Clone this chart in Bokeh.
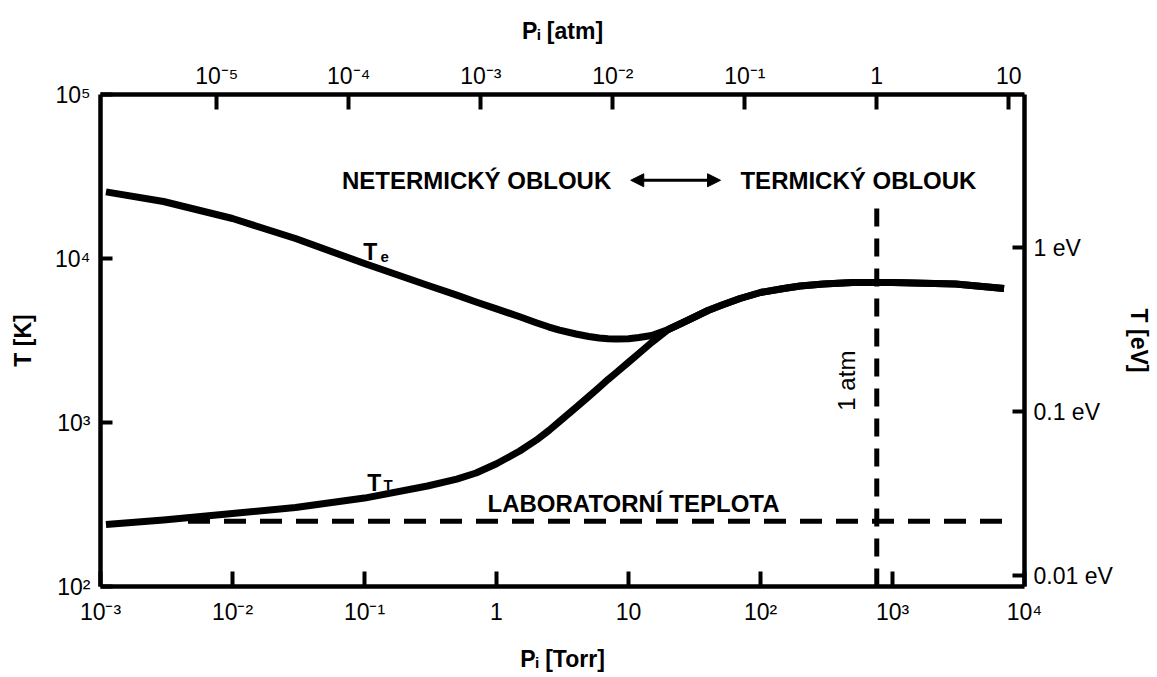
import math
from bokeh.plotting import figure
from bokeh.models import (Range1d, LogScale, LogAxis, FixedTicker, CustomJSTickFormatter,
                          Label, Arrow, NormalHead)
from bokeh.embed import file_html
from bokeh.resources import INLINE

# ---------------- data ----------------
pressure_torr = [1.1e-3, 3e-3, 1e-2, 3e-2, 0.1, 0.3, 0.5, 0.7, 1, 1.5, 2, 2.5, 3, 4, 5, 6,
                 7, 8, 10, 12, 15, 20, 25, 30, 40, 50, 70, 100, 150, 200, 300, 500, 760,
                 1000, 3000, 7000]
electron_temp_K = [25500, 22260, 17540, 13240, 9320, 6870, 5985, 5430, 4930, 4410, 4060,
                   3820, 3660, 3464, 3345, 3275, 3240, 3226, 3240, 3298, 3392, 3690, 4015,
                   4307, 4818, 5168, 5704, 6203, 6563, 6797, 6992, 7140, 7140, 7140, 6992,
                   6563]
heavy_temp_K = [239, 254, 279, 303, 346, 410, 452, 492, 560, 670, 780, 895, 1014, 1234,
                1440, 1640, 1830, 2000, 2330, 2640, 3080, 3690, 4015, 4307, 4818, 5168,
                5704, 6203, 6563, 6797, 6992, 7140, 7140, 7140, 6992, 6563]

lab_temp_K = 250
lab_line_torr = [4.6e-3, 7000]
atm_line_torr = 760
atm_line_K = [100, 23500]

torr_ticks = [1e-3, 1e-2, 1e-1, 1, 10, 1e2, 1e3, 1e4]
torr_labels = ["10⁻³", "10⁻²", "10⁻¹", "1", "10", "10²", "10³", "10⁴"]
atm_ticks = [1e-5, 1e-4, 1e-3, 1e-2, 1e-1, 1, 10]
atm_labels = ["10⁻⁵", "10⁻⁴", "10⁻³", "10⁻²", "10⁻¹", "1", "10"]
kelvin_ticks = [1e2, 1e3, 1e4, 1e5]
kelvin_labels = ["10²", "10³", "10⁴", "10⁵"]
ev_ticks = [0.01, 0.1, 1]
ev_labels = ["0.01 eV", "0.1 eV", "1 eV"]

TORR_PER_ATM = 760.0
K_PER_EV = 11604.5
X_MIN, X_MAX = 1e-3, 1e4
Y_MIN, Y_MAX = 1e2, 1e5

FONT = "Liberation Sans"

# ---------------- figure ----------------
p = figure(width=1157, height=677, x_axis_type="log", y_axis_type="log",
           x_range=Range1d(X_MIN, X_MAX), y_range=Range1d(Y_MIN, Y_MAX),
           output_backend="svg", toolbar_location=None,
           min_border_left=100, min_border_right=133, min_border_top=94, min_border_bottom=91)
p.extra_x_ranges = {"atm": Range1d(X_MIN / TORR_PER_ATM, X_MAX / TORR_PER_ATM)}
p.extra_x_scales = {"atm": LogScale()}
p.extra_y_ranges = {"eV": Range1d(Y_MIN / K_PER_EV, Y_MAX / K_PER_EV)}
p.extra_y_scales = {"eV": LogScale()}
p.outline_line_color = None
p.xgrid.grid_line_color = None
p.ygrid.grid_line_color = None
p.background_fill_color = "white"
p.border_fill_color = "white"

FMT_CODE = """
let best = 0, bd = Infinity;
for (let i = 0; i < vals.length; i++) {
  const d = Math.abs(Math.log10(tick) - Math.log10(vals[i]));
  if (d < bd) { bd = d; best = i; }
}
return labs[best];
"""


def style_axis(ax, ticks, labels, tick_len, label_size, standoff, title, title_standoff):
    ax.ticker = FixedTicker(ticks=ticks)
    ax.formatter = CustomJSTickFormatter(args=dict(vals=ticks, labs=labels), code=FMT_CODE)
    ax.minor_tick_line_color = None
    ax.major_tick_in = tick_len
    ax.major_tick_out = 0
    ax.major_tick_line_width = 4
    ax.major_tick_line_color = "black"
    ax.axis_line_width = 4.5
    ax.axis_line_color = "black"
    ax.major_label_text_font = FONT
    ax.major_label_text_font_size = f"{label_size}px"
    ax.major_label_text_color = "black"
    ax.major_label_standoff = standoff
    ax.axis_label = title
    ax.axis_label_text_font = FONT
    ax.axis_label_text_font_style = "bold"
    ax.axis_label_text_font_size = "23px"
    ax.axis_label_text_color = "black"
    ax.axis_label_standoff = title_standoff


bottom = p.below[0]
left = p.left[0]
top = LogAxis(x_range_name="atm")
p.add_layout(top, "above")
right = LogAxis(y_range_name="eV")
p.add_layout(right, "right")

style_axis(bottom, torr_ticks, torr_labels, 15, 23, 12, "Pᵢ [Torr]", 18)
style_axis(top, atm_ticks, atm_labels, 15, 23, 6, "Pᵢ [atm]", 16)
style_axis(left, kelvin_ticks, kelvin_labels, 12, 23, 10, "T [K]", 16)
style_axis(right, ev_ticks, ev_labels, 12, 23, 9, "T [eV]", 10)
left.major_label_orientation = "horizontal"
right.major_label_orientation = "horizontal"

# ---------------- curves ----------------
p.line(pressure_torr, electron_temp_K, line_width=7, line_color="black", line_join="round")
p.line(pressure_torr, heavy_temp_K, line_width=7, line_color="black", line_join="round")
p.line(lab_line_torr, [lab_temp_K, lab_temp_K], line_width=5, line_color="black",
       line_dash="22 14")
p.line([atm_line_torr, atm_line_torr], atm_line_K, line_width=5, line_color="black",
       line_dash="18 12")

# ---------------- axis line extensions (outside the frame) ----------------
for xs, ys, xe, ye in [(X_MIN, Y_MAX, X_MIN, 2.35e5),
                       (X_MAX, Y_MAX, X_MAX, 2.95e5),
                       (X_MAX, Y_MAX, 3.9e4, Y_MAX),
                       (X_MAX, Y_MIN, 2.4e4, Y_MIN)]:
    p.add_layout(Arrow(end=None, x_start=xs, y_start=ys, x_end=xe, y_end=ye,
                       line_width=4.5, line_color="black"))


def lab(text, x, y, size=24, bold=True, align="left", baseline="middle", angle=0.0, **kw):
    p.add_layout(Label(x=x, y=y, text=text, text_font=FONT, text_font_size=f"{size}px",
                       text_font_style="bold" if bold else "normal", text_color="black",
                       text_align=align, text_baseline=baseline, angle=angle, **kw))


lab("10 eV", X_MAX, 10 * K_PER_EV, size=23, bold=False, x_offset=10)

lab("NETERMICKÝ OBLOUK", 7.4, 30000, align="right")
lab("TERMICKÝ OBLOUK", 70.5, 30000, align="left")
p.add_layout(Arrow(start=NormalHead(size=13, fill_color="black", line_color="black"),
                   end=NormalHead(size=13, fill_color="black", line_color="black"),
                   x_start=10.4, y_start=30000, x_end=49.8, y_end=30000,
                   line_width=3, line_color="black"))

lab("LABORATORNÍ TEPLOTA", 0.855, 321, align="left")
lab("1 atm", 449, 1800, size=24, bold=False, align="center", angle=math.pi / 2)

# curve labels with subscripts
lab("T", 0.098, 10880, size=23, baseline="alphabetic")
lab("e", 0.132, 10280, size=15, baseline="alphabetic")
lab("T", 0.105, 425, size=23, baseline="alphabetic")
lab("T", 0.139, 417, size=15, baseline="alphabetic")

open("out.html", "w").write(file_html(p, INLINE))
